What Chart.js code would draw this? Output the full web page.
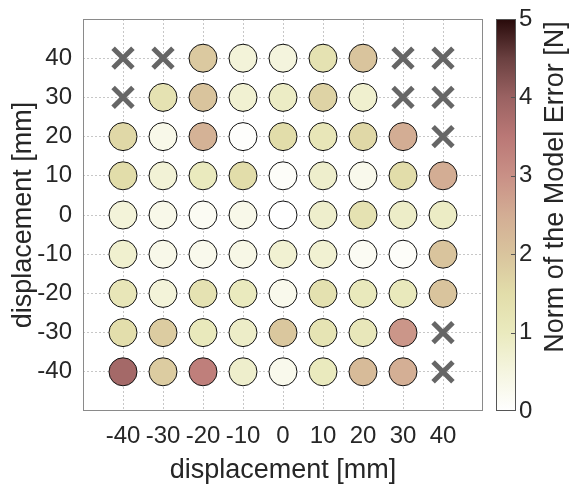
<!DOCTYPE html>
<html>
<head>
<meta charset="utf-8">
<script src="https://cdn.jsdelivr.net/npm/chart.js@4.4.1/dist/chart.umd.min.js"></script>
<style>
  html, body { margin: 0; padding: 0; background: #fff; }
  #wrap { width: 571px; height: 487px; }
</style>
</head>
<body>
<div id="wrap"><canvas id="chart" width="571" height="487"></canvas></div>
<script>
const xPositions = [-40, -30, -20, -10, 0, 10, 20, 30, 40]
const yPositions = [40, 30, 20, 10, 0, -10, -20, -30, -40]
const axisTicks = [-40, -30, -20, -10, 0, 10, 20, 30, 40]
const colorbarTicks = [0, 1, 2, 3, 4, 5]

// model error norm [N] per grid position, one row per y; null = no data (X)
const errY40 = [null, null, 1.9, 0.6, 0.55, 1.3, 2.0, null, null]
const errY30 = [null, 1.3, 2.0, 0.7, 0.9, 1.7, 0.75, null, null]
const errY20 = [1.6, 0.35, 2.4, 0.05, 1.5, 1.15, 1.6, 2.5, null]
const errY10 = [1.5, 0.65, 1.0, 1.5, 0.1, 0.8, 0.3, 1.5, 2.5]
const errY0 = [0.6, 0.35, 0.2, 0.35, 0.0, 0.8, 1.3, 0.85, 0.9]
const errYm10 = [0.75, 0.35, 0.3, 0.4, 0.7, 0.7, 0.2, 0.1, 2.0]
const errYm20 = [1.15, 0.6, 1.3, 1.0, 0.3, 1.35, 1.05, 1.05, 2.0]
const errYm30 = [1.45, 1.85, 1.05, 0.85, 1.95, 1.25, 1.1, 2.9, null]
const errYm40 = [3.85, 1.85, 3.35, 0.8, 0.3, 1.0, 2.2, 2.45, null]
const errorRows = [errY40, errY30, errY20, errY10, errY0, errYm10, errYm20, errYm30, errYm40]

// colormap stops: value -> rgb
const cmapValues = [0, 0.5, 1, 1.5, 2, 2.5, 3, 3.5, 4, 4.5, 5]
const cmapColors = [
  [255, 255, 255], [245, 245, 224], [234, 234, 190], [226, 221, 170],
  [217, 196, 157], [211, 173, 148], [201, 144, 134], [186, 120, 118],
  [154, 98, 98], [106, 64, 64], [40, 10, 10]
]

function colorFor(v) {
  for (let i = 1; i < cmapValues.length; i++) {
    if (v <= cmapValues[i]) {
      const t = (v - cmapValues[i - 1]) / (cmapValues[i] - cmapValues[i - 1])
      const a = cmapColors[i - 1], b = cmapColors[i]
      const c = a.map((ch, k) => Math.round(ch + (b[k] - ch) * t))
      return 'rgb(' + c.join(',') + ')'
    }
  }
  return 'rgb(' + cmapColors[cmapColors.length - 1].join(',') + ')'
}

const measured = []
const missing = []
yPositions.forEach((y, r) => {
  xPositions.forEach((x, c) => {
    const v = errorRows[r][c]
    if (v === null) missing.push({ x, y })
    else measured.push({ x, y, v })
  })
})

const tickFont = { family: 'Liberation Sans, Arial, sans-serif', size: 24 }
const titleFont = { family: 'Liberation Sans, Arial, sans-serif', size: 27 }
const textColor = '#262626'

function keepTicks(scale) {
  scale.ticks = scale.ticks.filter(t => axisTicks.includes(t.value))
}

const colorbarPlugin = {
  id: 'colorbar',
  afterDraw(chart) {
    const ctx = chart.ctx
    const area = chart.chartArea
    const cb = chart.scales.cb
    // plot frame
    ctx.save()
    ctx.strokeStyle = '#8a8a8a'
    ctx.lineWidth = 1
    ctx.strokeRect(area.left + 0.5, area.top + 0.5, area.right - area.left - 1, area.bottom - area.top - 1)

    // colour bar
    const x0 = area.right + 13
    const w = 20
    const top = cb.getPixelForValue(5)
    const bottom = cb.getPixelForValue(0)
    const grad = ctx.createLinearGradient(0, bottom, 0, top)
    cmapValues.forEach((v, i) => grad.addColorStop(v / 5, 'rgb(' + cmapColors[i].join(',') + ')'))
    ctx.fillStyle = grad
    ctx.fillRect(x0, top, w, bottom - top)
    ctx.strokeStyle = '#555'
    ctx.strokeRect(x0 + 0.5, top + 0.5, w - 1, bottom - top - 1)
    ctx.beginPath()
    colorbarTicks.slice(1, -1).forEach(v => {
      const py = Math.round(cb.getPixelForValue(v)) + 0.5
      ctx.moveTo(x0 + w - 5, py)
      ctx.lineTo(x0 + w, py)
    })
    ctx.stroke()

    // colour bar title
    ctx.translate(556, 187)
    ctx.rotate(-Math.PI / 2)
    ctx.fillStyle = textColor
    ctx.font = titleFont.size + 'px ' + titleFont.family
    ctx.textAlign = 'center'
    ctx.textBaseline = 'middle'
    ctx.fillText('Norm of the Model Error [N]', 0, 0)
    ctx.restore()
  }
}

new Chart(document.getElementById('chart'), {
  type: 'scatter',
  data: {
    datasets: [
      {
        label: 'error',
        data: measured,
        pointRadius: 14,
        pointBorderWidth: 1,
        pointBorderColor: '#111',
        pointBackgroundColor: measured.map(p => colorFor(p.v))
      },
      {
        label: 'no data',
        data: missing,
        pointStyle: 'crossRot',
        pointRadius: 14,
        pointBorderWidth: 5,
        pointBorderColor: '#666'
      }
    ]
  },
  options: {
    responsive: false,
    animation: false,
    events: [],
    layout: { padding: { top: 11 } },
    plugins: { legend: { display: false }, tooltip: { enabled: false } },
    scales: {
      x: {
        type: 'linear',
        min: -50,
        max: 50,
        afterBuildTicks: keepTicks,
        afterFit(scale) { scale.height = 76 },
        ticks: { stepSize: 10, color: textColor, font: tickFont, padding: 11, maxRotation: 0, autoSkip: false },
        grid: { color: 'rgba(0,0,0,0.22)', drawTicks: false },
        border: { display: false, dash: [2, 2] },
        title: { display: true, text: 'displacement [mm]', color: textColor, font: titleFont, padding: { top: 1, bottom: 0 } }
      },
      y: {
        type: 'linear',
        min: -50,
        max: 50,
        afterBuildTicks: keepTicks,
        afterFit(scale) { scale.width = 83; scale.paddingTop = 0; scale.paddingBottom = 0 },
        ticks: { stepSize: 10, color: textColor, font: tickFont, padding: 11, autoSkip: false },
        grid: { color: 'rgba(0,0,0,0.22)', drawTicks: false },
        border: { display: false, dash: [2, 2] },
        title: { display: true, text: 'displacement [mm]', color: textColor, font: titleFont, padding: { top: 7, bottom: 0 } }
      },
      cb: {
        type: 'linear',
        position: 'right',
        min: 0,
        max: 5,
        afterBuildTicks(scale) { scale.ticks = colorbarTicks.map(v => ({ value: v })) },
        afterFit(scale) { scale.width = 88; scale.paddingTop = 0; scale.paddingBottom = 0 },
        ticks: { color: textColor, font: tickFont, padding: 36 },
        grid: { display: false, drawTicks: false },
        border: { display: false }
      }
    }
  },
  plugins: [colorbarPlugin]
})
</script>
</body>
</html>
